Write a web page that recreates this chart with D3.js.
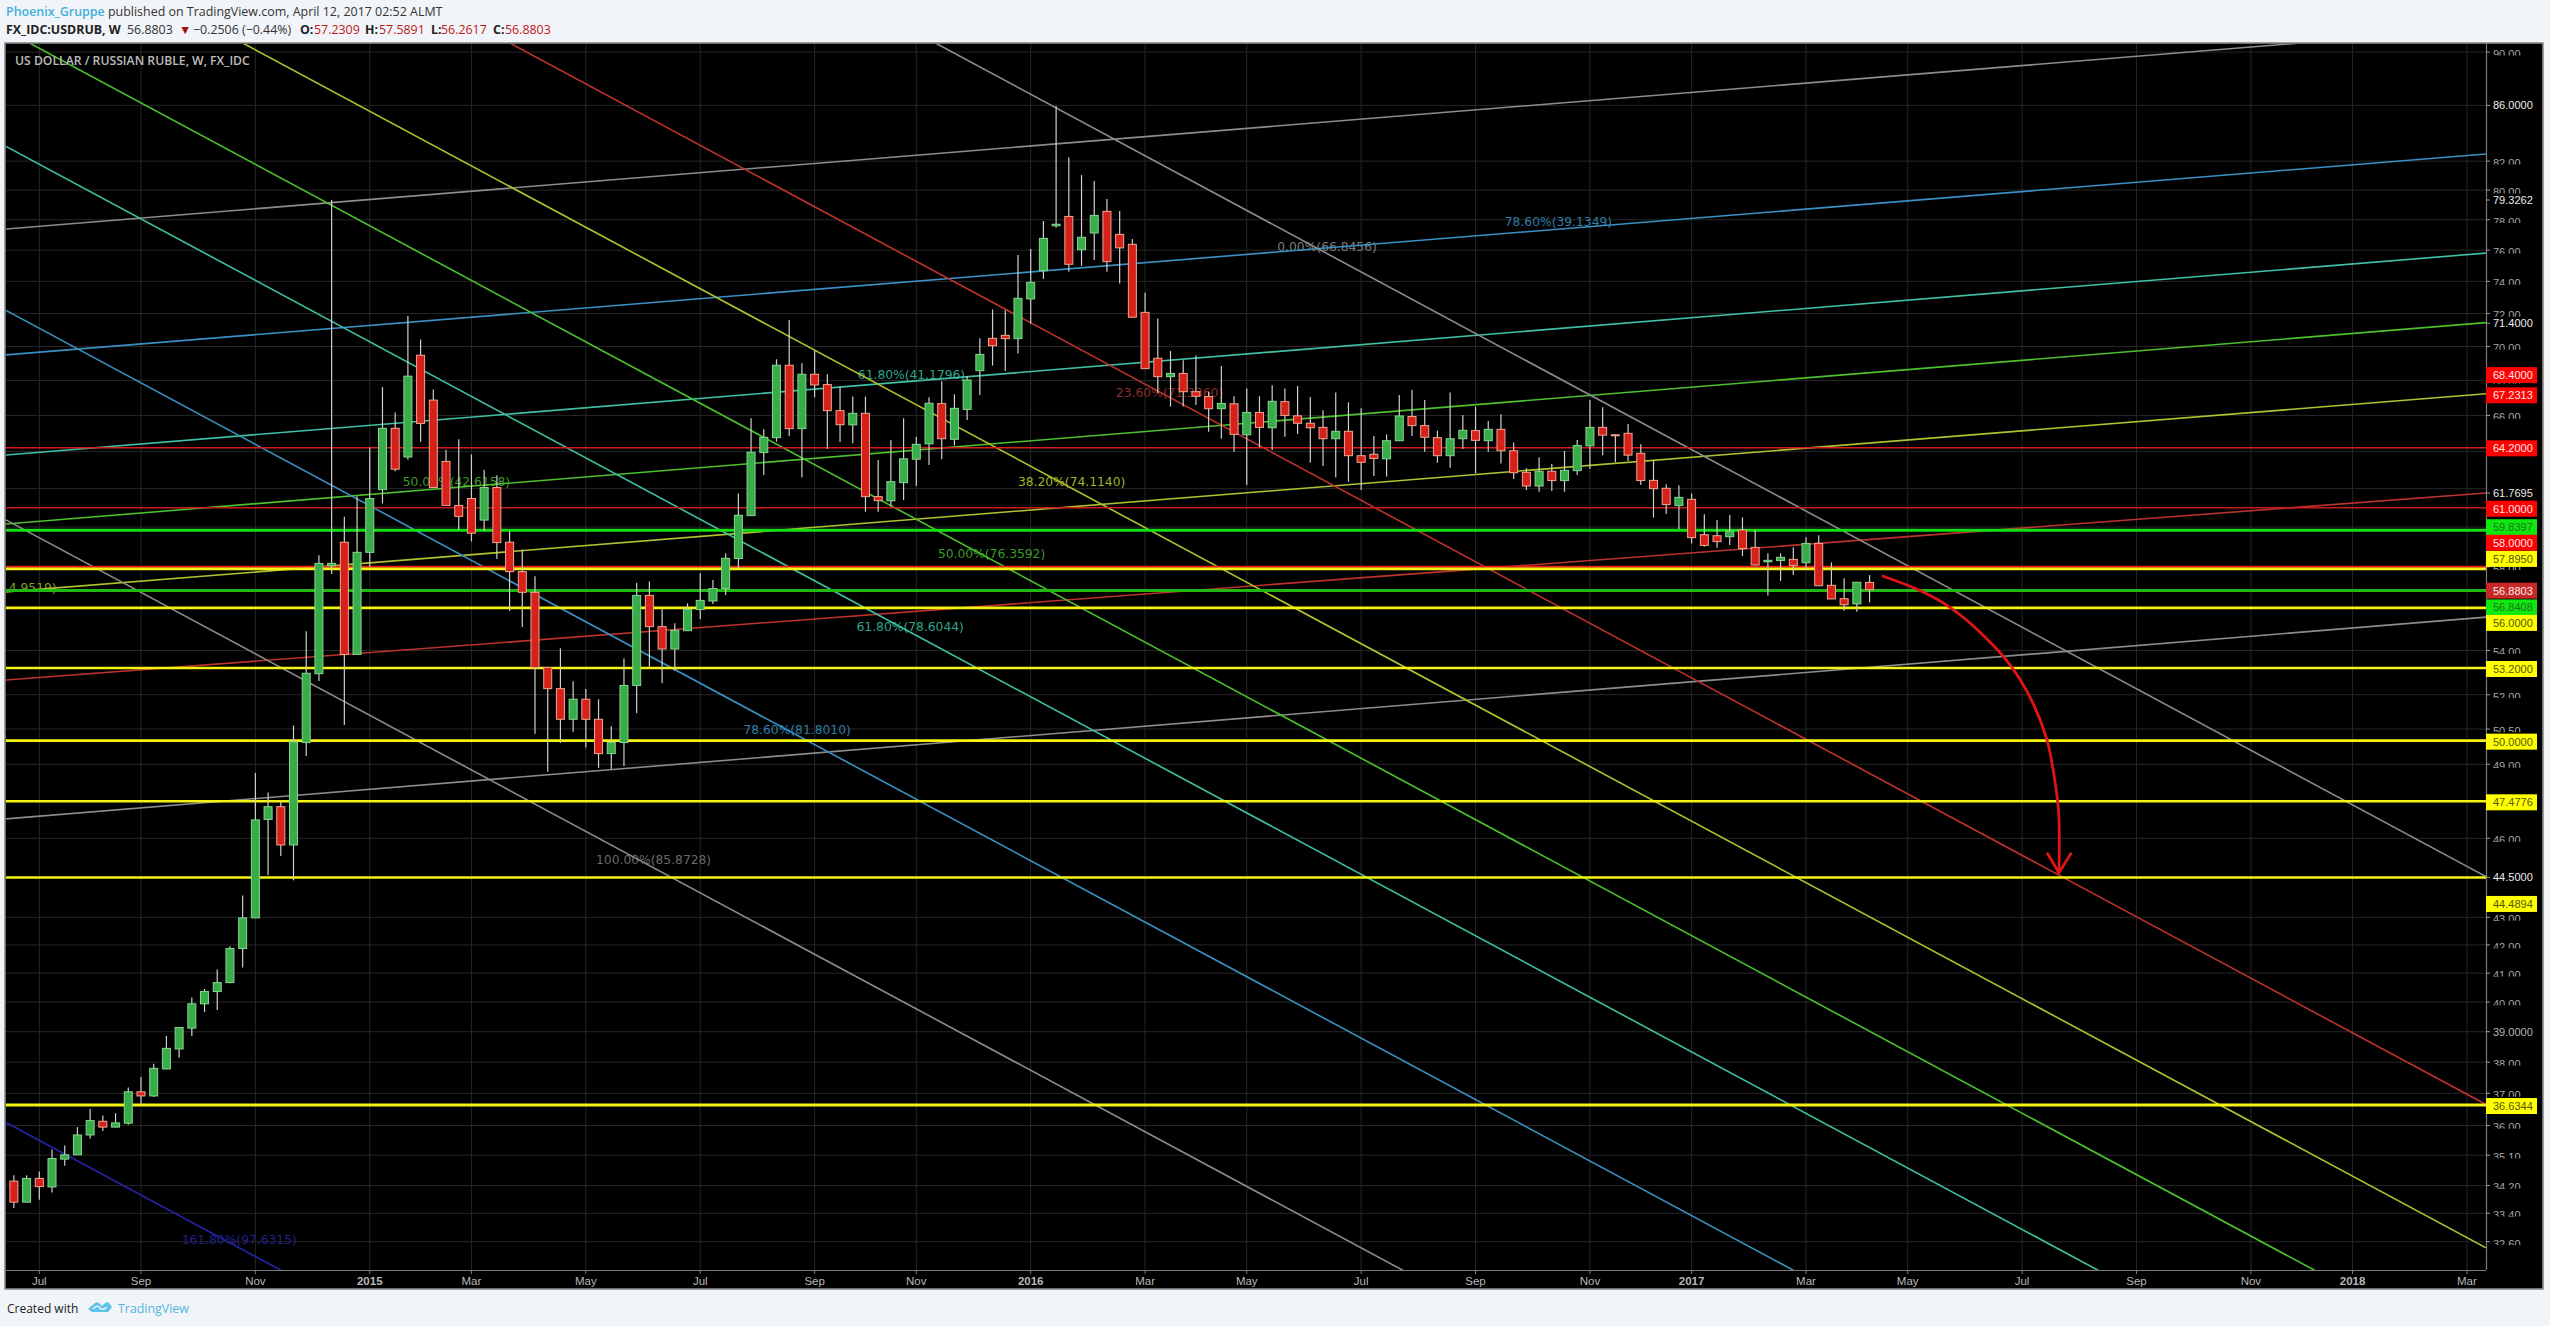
<!DOCTYPE html>
<html><head><meta charset="utf-8">
<style>
html,body{margin:0;padding:0;background:#f1f4f8;}
svg{display:block;}
</style>
<script src="https://cdnjs.cloudflare.com/ajax/libs/d3/7.8.5/d3.min.js"></script>
</head><body><svg id="c" width="2550" height="1326"></svg>
<script>
const opens=[34.33,33.72,34.41,34.16,34.98,35.11,35.71,36.13,35.95,36.07,
37.05,36.92,37.78,38.43,39.12,39.94,40.36,40.67,41.87,42.98,
46.75,47.26,45.74,49.92,52.94,58.05,59.23,53.82,58.72,61.95,
65.28,63.70,69.48,66.87,63.46,61.12,61.48,60.36,62.06,59.23,
57.76,56.75,53.22,52.27,50.92,51.80,50.92,49.45,49.92,52.41,
56.60,55.11,54.07,54.92,55.92,56.33,56.93,58.41,60.59,63.94,
64.76,68.89,65.26,68.36,67.76,66.27,65.47,66.12,61.58,61.36,
62.32,63.58,64.42,66.67,64.67,66.34,68.57,70.49,70.67,70.47,
72.90,74.68,77.60,78.22,76.03,77.12,78.56,77.03,76.38,72.07,
69.30,68.22,68.41,67.35,67.07,66.38,66.66,64.92,66.17,65.31,
66.78,65.98,65.56,65.33,64.70,65.11,63.77,63.85,63.60,64.59,
65.94,65.43,64.76,63.77,64.70,65.15,64.59,65.22,64.04,62.87,
62.14,62.93,62.43,62.96,64.31,65.33,64.92,65.00,63.90,62.44,
62.02,61.11,61.44,59.61,59.56,59.51,59.85,58.97,58.25,58.31,
58.37,58.20,59.17,57.09,56.44,56.19,57.23];
const closes=[33.72,34.41,34.17,35.00,35.11,35.71,36.15,35.95,36.08,37.05,
36.92,37.80,38.45,39.14,39.94,40.36,40.67,41.87,42.98,46.73,
47.26,45.74,49.95,52.96,58.17,58.17,53.82,58.72,61.48,65.28,
63.04,68.25,65.55,62.06,61.12,60.55,59.69,62.06,59.21,57.76,
56.75,53.22,52.27,50.92,51.80,50.92,49.45,49.93,52.41,56.60,
55.11,54.07,54.94,55.93,56.36,56.93,58.42,60.61,63.96,64.78,
68.89,65.26,68.36,67.74,66.27,65.48,66.12,61.58,61.37,62.37,
63.60,64.39,66.69,64.70,66.40,68.03,69.53,70.05,70.47,72.94,
73.94,76.77,77.70,75.09,76.84,78.29,75.26,76.15,71.77,68.69,
68.22,68.41,67.35,67.09,66.38,66.68,64.94,66.17,65.33,66.80,
66.00,65.56,65.31,64.70,65.11,63.77,63.41,63.62,64.59,65.97,
65.43,64.78,63.77,64.70,65.17,64.61,65.22,64.04,62.85,62.14,
62.93,62.43,62.98,64.33,65.33,64.90,64.87,63.80,62.43,62.00,
61.16,61.54,59.46,59.07,59.26,59.80,58.91,58.09,58.32,58.47,
58.07,59.17,57.07,56.43,56.15,57.24,56.88];
const highs=[34.50,34.50,34.61,35.27,35.39,35.95,36.52,36.31,36.38,37.19,
37.52,37.95,38.86,39.16,40.16,40.45,41.13,41.95,43.81,48.64,
47.84,47.48,50.65,54.90,58.57,79.33,60.53,61.59,64.22,67.62,
66.17,71.84,70.42,67.47,64.10,64.67,63.84,63.00,62.72,59.79,
58.86,57.53,53.22,54.10,52.60,52.25,51.80,50.62,53.63,57.20,
57.28,55.93,55.27,56.22,57.68,57.35,58.67,61.75,65.84,65.22,
69.24,71.60,69.00,69.75,68.36,67.64,67.07,67.07,63.54,64.63,
65.84,64.81,67.03,67.96,67.20,68.26,70.49,72.25,72.20,75.69,
76.07,77.91,85.96,82.28,81.03,80.62,79.39,78.58,76.72,73.29,
71.70,69.73,69.19,69.47,67.35,68.84,67.09,67.54,67.09,67.72,
67.54,67.68,67.05,66.29,67.31,66.74,66.40,64.85,64.94,67.16,
67.45,66.87,65.15,67.31,66.02,66.50,65.69,66.06,64.49,63.09,
63.68,63.32,64.03,64.63,66.87,66.46,64.95,65.52,64.39,63.54,
62.23,62.18,61.75,60.66,60.37,60.62,60.50,59.85,58.67,58.67,
58.97,59.48,59.58,58.22,57.43,57.24,57.59];
const lows=[33.55,33.72,33.79,34.00,34.78,35.11,35.60,35.83,35.95,36.02,
36.65,36.89,37.77,38.14,38.86,39.66,39.73,40.65,41.20,42.98,
44.57,45.31,44.38,49.35,52.61,57.64,50.67,53.82,58.00,61.22,
62.93,63.55,64.53,62.06,61.12,59.85,59.27,59.79,58.39,55.86,
55.10,50.30,48.69,49.90,50.37,49.71,48.85,48.80,48.93,51.20,
53.26,52.51,53.08,54.92,55.46,56.19,56.62,57.92,60.59,62.73,
64.54,64.85,62.60,67.03,64.14,64.52,64.45,60.79,60.79,61.06,
61.40,62.14,63.26,63.58,64.33,65.74,67.16,68.87,68.55,69.59,
71.39,74.15,77.47,74.61,74.98,75.37,74.61,73.86,71.77,68.69,
67.26,66.50,66.50,66.59,65.09,64.70,63.99,62.19,64.23,64.08,
64.81,64.96,63.39,63.21,62.59,62.37,61.93,62.67,62.64,64.59,
64.85,63.99,63.39,63.12,64.14,62.82,63.99,63.35,62.51,61.93,
61.84,61.88,61.84,62.73,63.05,63.80,63.41,63.48,62.19,60.49,
60.67,59.90,59.16,59.00,58.95,59.09,58.54,58.05,56.59,57.30,
57.59,57.87,57.07,56.43,55.86,55.82,56.26];

const xTickIndex=[2,10,19,28,36,45,54,63,71,80,89,97,106,115,124,132,141,149,158,167,176,184,193];
const xTickLabels=["Jul","Sep","Nov","2015","Mar","May","Jul","Sep","Nov","2016","Mar","May","Jul","Sep","Nov","2017","Mar","May","Jul","Sep","Nov","2018","Mar"];
const yGrid=[90,86,82,80,78,76,74,72,70,68,66,64,62,60,58,56,54,52,50.5,49,47.5,46,44.5,43,42,41,40,39,38,37,36,35.1,34.2,33.4,32.6];
const yCutLabels=[90,82,80,78,76,74,72,70,68,66,58,54,52,50.5,49,46,43,42,41,40,38,37,36,35.1,34.2,33.4,32.6];
const yFullLabels=[86,79.3262,71.4,61.7695,44.5,39];

// Rising and falling fib channels: price at the left and at the right edge of the plot
const risingNames=["grey","blue","teal","green","olive","red","grey"];
const risingLeft=[77.39,69.50,63.81,60.16,56.77,52.66,46.77];
const risingRight=[91.87,82.50,75.81,71.44,67.23,61.77,55.56];
const fallingNames=["grey","red","olive","green","teal","blue","grey","navy"];
const fallingLeft=[138.94,114.27,101.10,91.68,83.04,72.19,60.37,36.09];
const fallingRight=[44.52,36.65,32.43,29.41,26.63,23.16,19.36,11.58];
const fibPalette={grey:"#8c8c8c",blue:"#3a90c4",teal:"#3fc0a4",green:"#4cc02e",olive:"#b2c22c",red:"#bc322c",navy:"#2424a8"};

const levelPrices=[64.2,61,59.8397,58,57.895,56.8408,56,53.2,50,47.4776,44.4894,36.6344];
const levelColors=["#d81c1c","#c81c1c","#12e012","#f01c1c","#f4f40e","#22b814","#f4f40e","#f4f40e","#f4f40e","#f4f40e","#f4f40e","#f4f40e"];
const levelWidths=[1.6,1.6,3,2,2.6,3,2.6,2.6,2.6,2.6,2.6,3];

const tagPrices=[68.4,67.2313,64.2,61,59.8397,58,57.895,56.8803,56.8408,56,53.2,50,47.4776,44.4894,36.6344];
const tagTexts=["68.4000","67.2313","64.2000","61.0000","59.8397","58.0000","57.8950","56.8803","56.8408","56.0000","53.2000","50.0000","47.4776","44.4894","36.6344"];
const tagFills=["#ff0000","#ff0000","#ff0000","#ff0000","#0fe80f","#ff0000","#ffff00","#c62828","#0fe80f","#ffff00","#ffff00","#ffff00","#ffff00","#ffff00","#ffff00"];
const tagInk=["#ffe8e8","#ffe8e8","#ffe8e8","#ffe8e8","#1f741f","#ffe8e8","#55550c","#ffe8e8","#1f741f","#55550c","#55550c","#55550c","#55550c","#55550c","#55550c"];

const fibLabels=["0.00%(66.8456)","78.60%(39.1349)","61.80%(41.1796)","23.60%(71.3360)","38.20%(74.1140)","50.00%(42.6158)","50.00%(76.3592)","61.80%(78.6044)","78.60%(81.8010)","100.00%(85.8728)","161.80%(97.6315)","4.9519)"];
const fibLabelIndex=[99.4,117.3,66.4,86.7,79,30.6,72.7,66.3,57.4,45.8,13.2,-0.4];
const fibLabelPrice=[76.22,77.90,68.37,67.33,62.4,62.4,58.64,55.14,50.5,45.16,32.65,57.0];
const fibLabelColors=["#7d7d7d","#2f7ea8","#2ea68c","#8e2c26","#a3b32c","#3d9c2a","#3d9c2a","#2ea68c","#2f7ea8","#6a6a6a","#20208e","#7ea020"];

const arrowIndex=[146.96,149.84,152.36,155.32,157.16,158.73,159.96,160.57,160.88,160.9];
const arrowPrice=[57.56,56.87,56.01,54.49,53.26,51.77,50.03,48.35,47.01,44.67];
const arrowHeadIndex=[159.96,160.9,161.88];
const arrowHeadPrice=[45.44,44.67,45.44];

const W=2550,H=1326,L=6,R=2486,T=44,B=1270;
const sans='"Liberation Sans",Arial,sans-serif';
const x=d3.scaleLinear().domain([-0.62,194.5]).range([L,R]);
const y=d3.scaleLog().domain([32.6,90]).range([1241.7,52.1]);
const svg=d3.select("#c");

// chart frame
svg.append("rect").attr("x",5).attr("y",43).attr("width",2538).attr("height",1246)
  .attr("fill","#000").attr("stroke","#8a8a8a").attr("stroke-width",1.6);
const defs=svg.append("defs");
defs.append("clipPath").attr("id","plot").append("rect").attr("x",L).attr("y",T).attr("width",R-L).attr("height",B-T);

const plot=svg.append("g").attr("clip-path","url(#plot)");
// grid
plot.append("g").selectAll("line").data(yGrid).join("line")
  .attr("x1",L).attr("x2",R).attr("y1",d=>y(d)).attr("y2",d=>y(d)).attr("stroke","#262626").attr("stroke-width",1);
plot.append("g").selectAll("line").data(xTickIndex).join("line")
  .attr("x1",d=>x(d)).attr("x2",d=>x(d)).attr("y1",T).attr("y2",B).attr("stroke","#262626").attr("stroke-width",1);

// fib labels, beneath the drawings
plot.append("g").selectAll("text").data(fibLabels).join("text")
  .attr("x",(d,i)=>x(fibLabelIndex[i])).attr("y",(d,i)=>y(fibLabelPrice[i])+4.5)
  .attr("fill",(d,i)=>fibLabelColors[i]).attr("font-family",'"DejaVu Sans",sans-serif').attr("font-size",12.3)
  .text(d=>d);

// channels
const seg=(l,r,c)=>({l,r,c});
const chan=[...risingLeft.map((d,i)=>seg(d,risingRight[i],fibPalette[risingNames[i]])),
            ...fallingLeft.map((d,i)=>seg(d,fallingRight[i],fibPalette[fallingNames[i]]))];
const dom=x.domain();
plot.append("g").selectAll("line").data(chan).join("line")
  .attr("x1",x(dom[0])).attr("x2",x(dom[1])).attr("y1",d=>y(d.l)).attr("y2",d=>y(d.r))
  .attr("stroke",d=>d.c).attr("stroke-width",1.6);

// horizontal levels
plot.append("g").selectAll("line").data(levelPrices).join("line")
  .attr("x1",L).attr("x2",R).attr("y1",d=>y(d)).attr("y2",d=>y(d))
  .attr("stroke",(d,i)=>levelColors[i]).attr("stroke-width",(d,i)=>levelWidths[i]);

// candles
const candles=opens.map((o,i)=>({i,o,c:closes[i],h:highs[i],l:lows[i]}));
const cg=plot.append("g").selectAll("g").data(candles).join("g");
cg.append("line").attr("x1",d=>x(d.i)).attr("x2",d=>x(d.i)).attr("y1",d=>y(d.h)).attr("y2",d=>y(d.l))
  .attr("stroke","#cfcfcf").attr("stroke-width",1.2);
cg.append("rect").attr("x",d=>x(d.i)-4).attr("width",8)
  .attr("y",d=>y(Math.max(d.o,d.c)))
  .attr("height",d=>Math.max(1,y(Math.min(d.o,d.c))-y(Math.max(d.o,d.c))))
  .attr("fill",d=>d.c<d.o?"#d6201a":"#38ac48")
  .attr("stroke",d=>d.c<d.o?"#f2a690":"#86d690").attr("stroke-width",1);

// projected-move arrow
const arrowLine=d3.line().x(d=>x(d[0])).y(d=>y(d[1]));
plot.append("path").attr("d",arrowLine.curve(d3.curveCatmullRom)(arrowIndex.map((d,i)=>[d,arrowPrice[i]])))
  .attr("fill","none").attr("stroke","#e01414").attr("stroke-width",2.8);
plot.append("path").attr("d",arrowLine.curve(d3.curveLinear)(arrowHeadIndex.map((d,i)=>[d,arrowHeadPrice[i]])))
  .attr("fill","none").attr("stroke","#e01414").attr("stroke-width",2.8);

// axes frame
svg.append("line").attr("x1",R+.5).attr("x2",R+.5).attr("y1",T).attr("y2",B).attr("stroke","#7a7a7a").attr("stroke-width",1.2);
svg.append("line").attr("x1",L).attr("x2",R).attr("y1",B+.5).attr("y2",B+.5).attr("stroke","#7a7a7a").attr("stroke-width",1.2);

// x axis
const xa=svg.append("g");
xa.selectAll("line").data(xTickIndex).join("line")
  .attr("x1",d=>x(d)).attr("x2",d=>x(d)).attr("y1",B).attr("y2",B+4).attr("stroke","#7a7a7a");
xa.selectAll("text").data(xTickLabels).join("text")
  .attr("x",(d,i)=>x(xTickIndex[i])).attr("y",B+15).attr("text-anchor","middle")
  .attr("font-family",sans).attr("font-size",11.5).attr("fill","#b8b8b8")
  .attr("font-weight",d=>/^\d{4}$/.test(d)?"bold":"normal").text(d=>d);

// y axis tick marks
const ya=svg.append("g");
ya.selectAll("line").data([...yCutLabels,...yFullLabels]).join("line")
  .attr("x1",R).attr("x2",R+4).attr("y1",d=>y(d)).attr("y2",d=>y(d)).attr("stroke","#9a9a9a");
// the grid-level labels are cut off just under the numerals, as in the reference
yCutLabels.forEach((p,i)=>{
  defs.append("clipPath").attr("id","cut"+i).append("rect")
    .attr("x",R+2).attr("y",y(p)-5).attr("width",50).attr("height",8.3);
  ya.append("text").attr("x",R+7).attr("y",y(p)+5.8).attr("clip-path","url(#cut"+i+")")
    .attr("font-family",sans).attr("font-size",11).attr("fill","#a8a8a8")
    .text(p.toFixed(2));
});
ya.append("g").selectAll("text").data(yFullLabels).join("text")
  .attr("x",R+7).attr("y",d=>y(d)+4).attr("font-family",sans).attr("font-size",11)
  .attr("fill",d=>d===39?"#b4b4b4":"#ececec").text(d=>d.toFixed(4));

// price tags
const tagNudge=[1.5,1.5,0.5,1,-3,-24,-10,1,17,15,1,1,1,26.5,1];
const tg=svg.append("g").selectAll("g").data(tagPrices).join("g")
  .attr("transform",(d,i)=>`translate(0,${y(d)+tagNudge[i]})`);
tg.append("rect").attr("x",R).attr("y",-8).attr("width",51).attr("height",16).attr("fill",(d,i)=>tagFills[i]);
tg.append("text").attr("x",R+7).attr("y",4).attr("font-family",sans).attr("font-size",11)
  .attr("fill",(d,i)=>tagInk[i]).text((d,i)=>tagTexts[i]);

// header
const hf='"Open Sans",sans-serif';
const h1=svg.append("text").attr("x",6).attr("y",16).attr("font-family",hf).attr("font-size",12.45).attr("fill","#333");
h1.append("tspan").attr("fill","#42b0dc").attr("font-weight",600).text("Phoenix_Gruppe");
h1.append("tspan").text(" published on TradingView.com, April 12, 2017 02:52 ALMT");
const h2=svg.append("text").attr("y",34).attr("font-family",hf).attr("font-size",12.4).attr("fill","#333");
const head2=[["FX_IDC:USDRUB, W",6,700,"#222"],["56.8803",127,400,"#333"],["▼",179,400,"#a01010"],["−0.2506 (−0.44%)",193,400,"#333"],
  ["O:",300,700,"#222"],["57.2309",314,400,"#c01818"],["H:",365,700,"#222"],["57.5891",379,400,"#c01818"],
  ["L:",431,700,"#222"],["56.2617",441,400,"#c01818"],["C:",493,700,"#222"],["56.8803",505,400,"#c01818"]];
h2.selectAll("tspan").data(head2).join("tspan").attr("x",d=>d[1]).attr("font-weight",d=>d[2]).attr("fill",d=>d[3]).text(d=>d[0]);
// chart title
svg.append("text").attr("x",15).attr("y",65).attr("font-family",hf).attr("font-size",12.2).attr("font-weight",600)
  .attr("fill","#bcbcbc").text("US DOLLAR / RUSSIAN RUBLE, W, FX_IDC");
// footer
svg.append("text").attr("x",7).attr("y",1313).attr("font-family",hf).attr("font-size",12).attr("fill","#222").text("Created with");
const logo=svg.append("g").attr("transform","translate(88,1300)");
logo.append("path").attr("d","M0 9 L7 3 Q9 1.5 11 3 L14 6 L17 3 Q19 1.5 21 3 L24 7 L20 12 L4 12 Z").attr("fill","#5cc3ec");
logo.append("path").attr("d","M5 9 Q9 4 12 8 Q15 11 19 7").attr("fill","none").attr("stroke","#f1f4f8").attr("stroke-width",1.3);
svg.append("text").attr("x",118).attr("y",1313).attr("font-family",hf).attr("font-size",12.4).attr("fill","#55b4de").text("TradingView");
</script></body></html>
